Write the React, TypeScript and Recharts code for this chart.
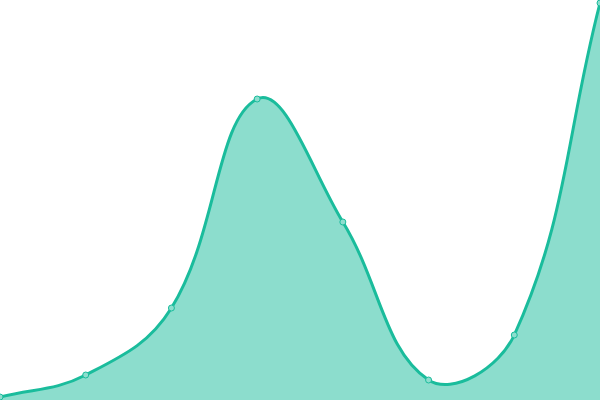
import React from 'react';
import { AreaChart, Area, XAxis, YAxis } from 'recharts';

// categories and values (domain 0..400, no visible axes)
const categories = ['A', 'B', 'C', 'D', 'E', 'F', 'G', 'H'];
const values = [3, 25, 92, 301, 178, 20, 65, 397];

const data = categories.map((name, i) => ({ name, value: values[i] }));

// spline with distance-weighted control points (tension 0.4), d3 curve factory shape
function smoothCurve(context: any) {
  let pts: number[][] = [];
  let line = NaN;
  const t = 0.4;
  return {
    areaStart() { line = 0; },
    areaEnd() { line = NaN; },
    lineStart() { pts = []; },
    point(x: number, y: number) { pts.push([+x, +y]); },
    lineEnd() {
      const n = pts.length;
      if (n > 0) {
        if (line) context.lineTo(pts[0][0], pts[0][1]);
        else context.moveTo(pts[0][0], pts[0][1]);
        const cps = pts.map((p, i) => {
          const prev = pts[i - 1] || p;
          const next = pts[i + 1] || p;
          const d01 = Math.hypot(p[0] - prev[0], p[1] - prev[1]);
          const d12 = Math.hypot(next[0] - p[0], next[1] - p[1]);
          let s01 = d01 / (d01 + d12);
          let s12 = d12 / (d01 + d12);
          if (isNaN(s01)) s01 = 0;
          if (isNaN(s12)) s12 = 0;
          const fa = t * s01;
          const fb = t * s12;
          return {
            prev: [p[0] - fa * (next[0] - prev[0]), p[1] - fa * (next[1] - prev[1])],
            next: [p[0] + fb * (next[0] - prev[0]), p[1] + fb * (next[1] - prev[1])],
          };
        });
        for (let i = 1; i < n; i++) {
          const a = cps[i - 1].next;
          const b = cps[i].prev;
          context.bezierCurveTo(a[0], a[1], b[0], b[1], pts[i][0], pts[i][1]);
        }
      }
      if (line || (line !== 0 && n === 1)) context.closePath();
      line = 1 - line;
    },
  };
}

export default function App() {
  return (
    <div style={{ position: 'absolute', left: 0, top: 0, width: 600, height: 400, background: '#fff' }}>
      <AreaChart width={600} height={400} data={data} margin={{ top: 0, right: 0, bottom: 0, left: 0 }}>
        <XAxis dataKey="name" hide />
        <YAxis domain={[0, 400]} hide />
        <Area
          type={smoothCurve as any}
          dataKey="value"
          stroke="#1abc9c"
          strokeWidth={3}
          fill="#1abc9c"
          fillOpacity={0.5}
          dot={{ r: 3, fill: '#8ddece', stroke: '#1abc9c', strokeWidth: 1, fillOpacity: 1 }}
          activeDot={false}
          isAnimationActive={false}
        />
      </AreaChart>
    </div>
  );
}
